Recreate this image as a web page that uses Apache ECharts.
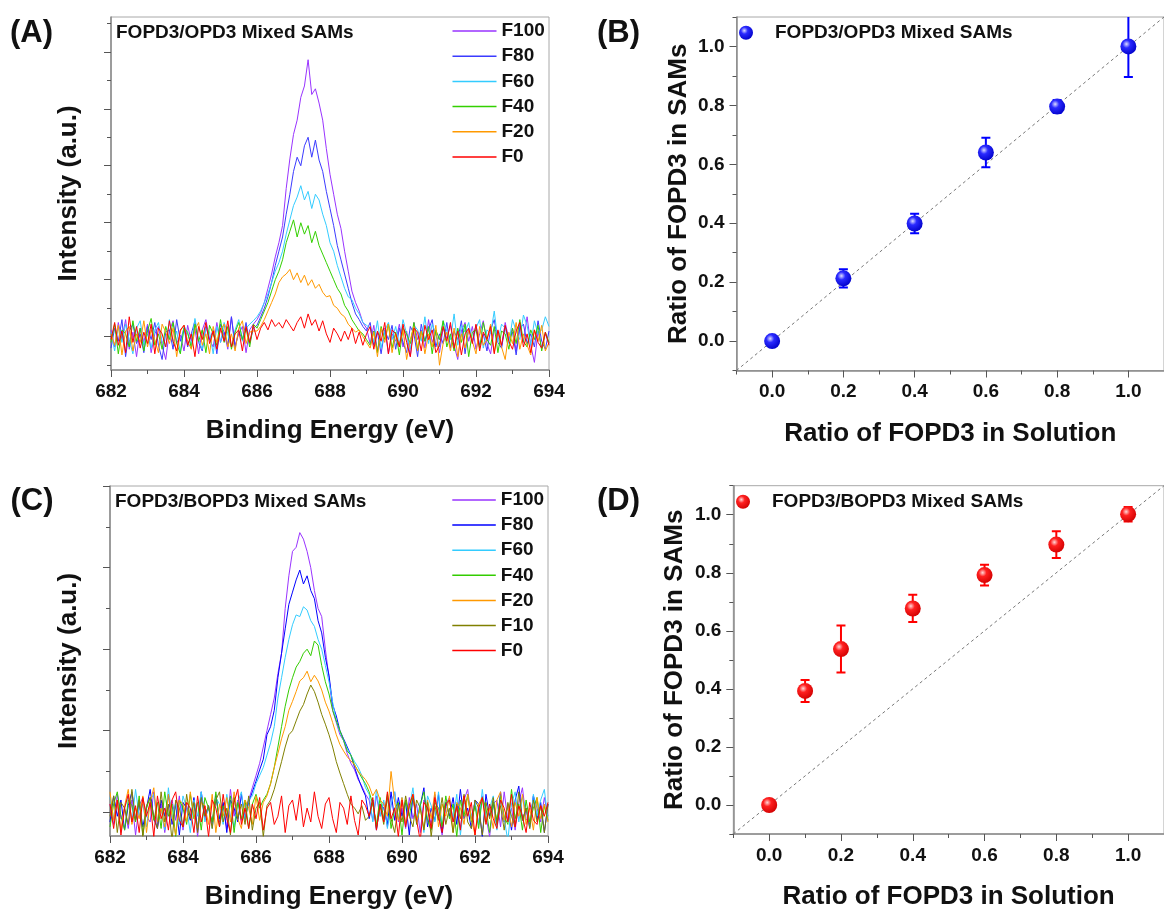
<!DOCTYPE html>
<html><head><meta charset="utf-8">
<script src="https://cdn.jsdelivr.net/npm/echarts@6/dist/echarts.min.js"></script>
<style>html,body{margin:0;padding:0;background:#fff}#chart{width:1164px;height:911px}</style>
</head><body><div id="chart"></div>
<script>
// ---------- Data ----------
const energyStart = 682.0;   // eV, first sample of every spectrum
const energyStep = 0.1;      // eV between samples
const energyMin = 682, energyMax = 694;

const namesA = ['F100','F80','F60','F40','F20','F0'];
const A_F100 = [12,-18,25,-5,30,-22,8,-35,15,-10,22,-28,5,18,-15,-40,10,28,-12,3,-25,20,-8,15,-30,12,30,-5,-18,25,-10,8,-22,35,-15,5,18,-28,12,22,
30,42,60,85,110,140,165,195,260,312,355,380,420,440,486,425,435,410,380,330,285,250,215,190,150,115,80,60,45,25,15,
-12,20,-25,8,15,-30,5,-8,22,-18,10,-35,25,-5,12,-20,30,-10,8,-28,15,-3,20,-15,-40,10,25,-8,18,-22,5,28,-12,-30,12,8,-18,25,-5,15,-25,20,-10,35,-15,-45,10,-20,5,-12];
const A_F80 = [-20,15,-8,30,-35,10,22,-12,5,-28,18,-5,25,-15,-40,8,12,-22,30,-8,15,-18,5,28,-10,-25,18,-5,12,-30,22,8,-15,35,-20,10,-5,25,-12,15,
20,35,50,70,95,125,150,175,215,250,290,315,300,335,350,315,345,310,290,255,225,195,160,135,110,85,60,40,30,18,10,
25,-15,8,-30,12,-5,20,-22,15,-10,-28,18,5,-35,22,-8,12,30,-18,5,-12,25,-20,10,-5,28,-30,15,-8,20,-15,5,-25,12,30,-10,-20,18,-5,8,-32,15,22,-12,5,-18,28,-8,-22,10];
const A_F60 = [8,-25,18,-10,22,-5,-30,15,28,-15,5,-20,12,25,-8,-18,30,-12,10,-28,20,5,-15,32,-5,-22,15,8,-30,18,-10,25,5,-18,12,30,-8,15,22,28,
35,45,60,75,95,115,130,150,180,205,230,245,265,240,255,225,250,240,215,195,165,150,125,105,85,70,65,50,40,25,20,
15,-10,28,-20,10,25,-5,18,-15,30,5,-22,20,12,-8,35,-12,22,5,-18,28,10,-5,40,-15,20,8,25,-10,15,30,-20,12,5,45,-8,22,15,-12,30,10,-5,38,20,-15,28,5,12,35,18];
const A_F40 = [-10,22,-30,12,5,-18,28,-8,15,-25,10,32,-15,5,-22,18,-5,25,-12,-30,15,8,-20,22,-8,12,-28,20,5,-15,30,-10,18,-22,8,25,-5,15,-18,22,
15,30,45,60,80,100,115,135,165,185,205,175,200,180,195,165,185,160,145,130,115,100,85,75,55,45,30,20,10,5,-5,
-15,10,-28,18,-5,22,-20,8,-32,15,5,-12,25,-22,10,-8,18,-30,12,-5,28,-18,5,-25,15,-10,22,-35,8,12,-20,25,-5,-15,18,-28,10,5,-22,15,-12,30,-8,-18,12,-5,20,-25,8,-10];
const A_F20 = [5,-15,20,-32,10,18,-25,5,-10,28,-18,12,-5,-28,22,8,-12,15,-35,10,20,-8,-22,12,25,-15,5,-30,18,-10,12,22,-18,5,-25,15,28,-12,8,10,
10,18,30,45,60,75,95,105,110,118,100,112,95,108,90,100,85,92,78,70,72,55,50,40,35,22,15,8,12,0,-10,
-20,8,-35,15,-10,22,-28,5,-15,12,-40,-5,18,-25,10,-30,5,-18,20,-50,-12,8,-25,15,-35,5,-20,12,-8,-30,18,-15,-5,22,-28,10,-18,-40,8,-12,25,-22,5,-15,-32,12,-8,20,-25,-10];
const A_F0 = [-5,25,-15,10,-28,35,-10,18,-20,8,-12,22,-30,15,5,-18,28,-8,-25,12,20,-15,5,-35,18,-5,25,-12,10,-22,15,-8,28,-18,5,12,-25,18,-10,20,
-5,15,25,12,30,18,25,15,30,20,10,25,35,15,40,20,30,10,28,5,-10,15,5,-8,10,-5,15,-12,8,-15,5,
18,-22,10,-8,25,-30,12,5,-18,22,-10,-35,15,8,-25,20,-5,12,-28,-15,18,-8,25,-20,10,-32,5,15,-12,22,-25,8,-5,18,-30,12,-15,20,-8,-22,10,25,-18,5,-28,12,-10,-20,8,-15];

const namesC = ['F100','F80','F60','F40','F20','F10','F0'];
const C_F100 = [10,-15,22,-8,5,-20,15,-28,8,18,-5,-12,25,-18,10,-25,5,15,-10,20,-22,8,-5,12,-30,18,-8,5,-15,22,-12,10,-20,28,-5,15,-10,5,
15,30,45,60,80,100,120,140,170,195,250,290,320,325,343,335,320,300,272,250,240,200,165,125,110,95,88,72,60,52,40,32,22,
15,-10,20,-5,12,-18,8,25,-12,5,-20,18,-8,10,-25,15,5,-15,22,-5,-28,10,18,-12,5,-20,15,28,-8,12,-15,20,-5,-30,10,15,-18,25,-10,5,-22,12,30,-8,-15,20,5,-12,18,-5];
const C_F80 = [-12,20,-5,15,-22,8,25,-10,12,-18,5,28,-8,-20,15,-5,22,-15,10,-28,12,5,-10,18,-22,25,-5,8,-15,20,-8,12,-25,15,5,-12,22,-8,12,
25,38,52,65,95,105,125,165,195,225,255,270,285,297,280,290,272,262,235,220,190,168,132,118,100,90,80,70,55,42,30,20,
-8,15,-22,10,5,-15,25,-10,18,-5,12,-28,20,-12,8,30,-18,5,-10,22,-25,12,-5,18,-15,28,-8,5,-20,15,10,-30,22,-5,12,-18,25,-12,8,-22,15,32,-10,5,-18,20,-8,12,-25,10];
const C_F60 = [18,-8,12,-25,5,20,-12,28,-5,10,-18,15,22,-10,5,-22,30,-8,12,-15,20,5,-25,15,-5,25,-12,8,-20,18,10,-15,22,-5,-18,12,25,-10,15,20,
35,45,55,70,85,105,140,165,190,212,230,242,240,252,248,235,228,212,200,180,160,135,112,98,88,78,70,62,55,45,30,
22,-12,28,-5,15,-20,10,25,-8,18,-15,5,30,-10,12,-25,20,8,-12,25,-18,5,15,-8,22,-28,10,18,-5,12,-15,28,-10,5,20,-22,15,-8,-35,10,25,-12,18,5,-20,22,-5,15,28,-10];
const C_F40 = [-18,10,25,-5,-22,15,8,-12,20,-28,5,18,-10,12,-20,25,-5,10,-30,15,5,-15,22,-8,12,-22,18,5,-12,25,-18,8,-5,20,-25,12,-8,15,-20,10,22,5,
15,22,35,55,80,105,130,150,165,178,185,195,200,192,210,205,180,160,145,125,112,100,88,75,70,58,50,42,35,
25,10,-15,18,-8,22,-20,5,12,-28,15,-5,20,-15,8,25,-10,-22,12,5,-18,20,-8,10,-30,15,-5,22,-12,8,-20,18,5,-25,12,-10,20,-5,-15,28,-8,10,-22,15,-12,5,18,-25,8,-10];
const C_F20 = [25,-10,15,-22,8,28,-15,5,-8,20,-25,12,30,-12,5,-18,22,-5,-28,15,10,-12,25,-5,-20,12,8,-15,22,-25,10,-5,18,-12,25,-8,-20,15,5,-15,20,-10,12,
20,35,55,72,90,105,125,136,148,161,165,173,160,168,161,150,135,124,110,95,83,75,68,63,58,50,45,40,
32,20,28,15,10,-5,50,12,-10,18,-15,8,22,-12,5,-20,15,-8,25,-18,10,-5,20,-25,12,5,-15,22,-8,-28,10,18,-12,5,-20,15,25,-10,8,-18,12,-5,22,-15,5,-22,18,-8,10,-12];
const C_F10 = [-5,20,-25,12,5,-15,28,-10,15,-30,8,18,-5,-20,25,-12,10,-35,15,5,-18,22,-8,12,-25,18,-5,8,-20,15,25,-12,5,-28,18,-8,10,-15,20,-22,5,12,-30,8,
15,28,45,62,80,95,100,112,124,132,145,156,148,135,120,108,95,80,62,48,35,22,10,5,-2,8,-10,
-5,12,-20,8,-15,18,-8,-25,10,-12,20,-5,-18,15,5,-22,12,-30,8,-10,18,-15,5,-25,10,-8,22,-12,-20,15,5,-28,12,-8,18,-15,8,-22,12,-5,-18,25,-10,5,-20,15,-12,8,-25,10];
const C_F0 = [10,-20,15,-28,5,22,-12,8,-25,18,-5,12,-30,20,-8,5,-22,15,25,-10,-18,12,5,-25,20,-12,8,-30,15,5,-18,22,-8,-25,12,28,-15,5,-20,10,
-8,18,-22,5,12,-15,-5,20,-25,8,15,-10,22,-18,5,-12,25,-5,-20,10,18,-8,-25,12,5,-15,20,-10,-28,15,8,-5,18,-22,10,-12,25,-8,5,-30,
15,-18,8,22,-10,-35,12,5,-20,18,-5,-25,10,15,-12,8,-22,20,-5,12,-28,5,18,-15,10,-8,-20,15,5,-12,22,-18,8,-5,-25,12,-10,-15,8,-5,12];

const solutionRatioB = [0.0, 0.2, 0.4, 0.6, 0.8, 1.0];
const samRatioB      = [0.0, 0.213, 0.399, 0.640, 0.796, 1.0];
const samErrB        = [0.01, 0.031, 0.033, 0.05, 0.022, 0.104];
const solutionRatioD = [0.0, 0.1, 0.2, 0.4, 0.6, 0.8, 1.0];
const samRatioD      = [0.0, 0.393, 0.537, 0.677, 0.792, 0.897, 1.002];
const samErrD        = [0.01, 0.038, 0.081, 0.047, 0.036, 0.046, 0.025];
const identityRange  = [-0.1, 1.1];

// tick lists
const intensityTicksA = [0, 100, 200, 300, 400, 500];
const intensityMinorA = [-50, 50, 150, 250, 350, 450, 550];
const intensityTicksC = [0, 100, 200, 300, 400];
const intensityMinorC = [50, 150, 250, 350];
const ratioTicks = [0.0, 0.2, 0.4, 0.6, 0.8, 1.0];
const ratioMinor = [-0.1, 0.1, 0.3, 0.5, 0.7, 0.9, 1.1];

// ---------- Styles ----------
const FONT = '"Liberation Sans", Arial, Helvetica, sans-serif';
const colorsA = ['#9933ff', '#3b3bff', '#33ccff', '#33d000', '#ff9900', '#ff0000'];
const colorsC = ['#9933ff', '#0000ff', '#33ccff', '#33cc00', '#ff9900', '#808000', '#ff0000'];
const lab = {fontFamily: FONT, fontWeight: 'bold', fontSize: 19, color: '#111'};
const nameTS = {fontFamily: FONT, fontWeight: 'bold', fontSize: 26, color: '#111', lineHeight: 26};
const axisLineS = {onZero: false, lineStyle: {color: '#8a8a8a', width: 1.5}};
const tickS = {color: '#555', width: 1};

function toPoints(values) {
  return values.map((v, i) => [+(energyStart + i * energyStep).toFixed(2), v]);
}
function sphere(light, base, dark) {
  return {type: 'radial', x: 0.38, y: 0.35, r: 0.7,
    colorStops: [{offset: 0, color: light}, {offset: 0.35, color: base}, {offset: 1, color: dark}]};
}
function errorBars(color) {
  return function (params, api) {
    const x = api.value(0), y = api.value(1), e = api.value(2);
    const hi = api.coord([x, y + e]);
    const lo = api.coord([x, y - e]);
    const cap = 4.5;
    const style = {stroke: color, lineWidth: 2};
    return {type: 'group', children: [
      {type: 'line', shape: {x1: hi[0], y1: hi[1], x2: lo[0], y2: lo[1]}, style: style},
      {type: 'line', shape: {x1: hi[0] - cap, y1: hi[1], x2: hi[0] + cap, y2: hi[1]}, style: style},
      {type: 'line', shape: {x1: lo[0] - cap, y1: lo[1], x2: lo[0] + cap, y2: lo[1]}, style: style}
    ]};
  };
}
function minorAxis(grid, min, max, values, pos) {
  return {type: 'value', gridIndex: grid, min: min, max: max, position: pos,
    axisLine: {show: false, onZero: false}, axisLabel: {show: false}, splitLine: {show: false},
    axisTick: {show: true, customValues: values, length: 4, lineStyle: tickS}};
}
const gridBox = {show: true, borderColor: '#a8a8a8', borderWidth: 1, backgroundColor: 'transparent'};

const series = [];
[A_F100, A_F80, A_F60, A_F40, A_F20, A_F0].forEach((vals, k) => {
  series.push({type: 'line', name: 'A:' + namesA[k], xAxisIndex: 0, yAxisIndex: 0, data: toPoints(vals),
    symbol: 'none', lineStyle: {width: 1, color: colorsA[k]}, itemStyle: {color: colorsA[k]}, z: 2 + k});
});
[C_F100, C_F80, C_F60, C_F40, C_F20, C_F10, C_F0].forEach((vals, k) => {
  series.push({type: 'line', name: 'C:' + namesC[k], xAxisIndex: 3, yAxisIndex: 4, data: toPoints(vals),
    symbol: 'none', lineStyle: {width: 1, color: colorsC[k]}, itemStyle: {color: colorsC[k]}, z: 2 + k});
});
const identityLine = identityRange.map(v => [v, v]);
series.push({type: 'line', name: 'idB', xAxisIndex: 1, yAxisIndex: 2, data: identityLine, symbol: 'none', silent: true,
  lineStyle: {color: '#777', width: 1, type: [3, 3]}, z: 1});
series.push({type: 'custom', name: 'errB', xAxisIndex: 1, yAxisIndex: 2, clip: true, z: 3,
  data: solutionRatioB.map((x, i) => [x, samRatioB[i], samErrB[i]]), renderItem: errorBars('#0000ff')});
series.push({type: 'scatter', name: 'FOPD3/OPD3 Mixed SAMs', xAxisIndex: 1, yAxisIndex: 2, symbolSize: 16, z: 4,
  data: solutionRatioB.map((x, i) => [x, samRatioB[i]]),
  itemStyle: {color: sphere('#dcdcff', '#2a2aff', '#0000c8'), opacity: 1}});
series.push({type: 'line', name: 'idD', xAxisIndex: 4, yAxisIndex: 6, data: identityLine, symbol: 'none', silent: true,
  lineStyle: {color: '#777', width: 1, type: [3, 3]}, z: 1});
series.push({type: 'custom', name: 'errD', xAxisIndex: 4, yAxisIndex: 6, clip: true, z: 3,
  data: solutionRatioD.map((x, i) => [x, samRatioD[i], samErrD[i]]), renderItem: errorBars('#ff0000')});
series.push({type: 'scatter', name: 'FOPD3/BOPD3 Mixed SAMs', xAxisIndex: 4, yAxisIndex: 6, symbolSize: 16, z: 4,
  data: solutionRatioD.map((x, i) => [x, samRatioD[i]]),
  itemStyle: {color: sphere('#ffd8d8', '#ff2020', '#d00000'), opacity: 1}});

const legendText = {fontFamily: FONT, fontWeight: 'bold', fontSize: 19, color: '#111', lineHeight: 19};
const stripPanel = n => n.slice(2);
const panelLabel = {fontFamily: FONT, fontWeight: 'bold', fontSize: 31, color: '#111', lineHeight: 31};
const inPlotTitle = {fontFamily: FONT, fontWeight: 'bold', fontSize: 19, color: '#111', lineHeight: 19};

const option = {
  animation: false,
  backgroundColor: '#fff',
  title: [
    {text: '(A)', left: 10, top: 18, padding: 0, textStyle: panelLabel},
    {text: '(B)', left: 597, top: 18, padding: 0, textStyle: panelLabel},
    {text: '(C)', left: 10.5, top: 486, padding: 0, textStyle: panelLabel},
    {text: '(D)', left: 597, top: 486, padding: 0, textStyle: panelLabel},
    {text: 'FOPD3/OPD3 Mixed SAMs', left: 116, top: 23, padding: 0, textStyle: inPlotTitle},
    {text: 'FOPD3/BOPD3 Mixed SAMs', left: 115, top: 492, padding: 0, textStyle: inPlotTitle}
  ],
  legend: [
    {orient: 'vertical', left: 452.5, top: 21.5, padding: 0, itemWidth: 44, itemHeight: 1.5, itemGap: 6.2, icon: 'rect',
      data: namesA.map(n => 'A:' + n), formatter: stripPanel, textStyle: legendText, selectedMode: false},
    {orient: 'vertical', left: 452.3, top: 490.5, padding: 0, itemWidth: 43.5, itemHeight: 1.5, itemGap: 6.1, icon: 'rect',
      data: namesC.map(n => 'C:' + n), formatter: stripPanel, textStyle: legendText, selectedMode: false},
    {orient: 'vertical', left: 739, top: 23.2, padding: 0, itemWidth: 48, itemHeight: 14, icon: 'circle',
      data: ['FOPD3/OPD3 Mixed SAMs'], textStyle: legendText, selectedMode: false},
    {orient: 'vertical', left: 736, top: 492.2, padding: 0, itemWidth: 48, itemHeight: 14, icon: 'circle',
      data: ['FOPD3/BOPD3 Mixed SAMs'], textStyle: legendText, selectedMode: false}
  ],
  grid: [
    Object.assign({left: 111, top: 17, width: 438, height: 353}, gridBox),
    Object.assign({left: 736.5, top: 17, width: 438, height: 353.5}, gridBox),
    Object.assign({left: 110, top: 486, width: 438, height: 353}, gridBox),
    Object.assign({left: 733.3, top: 485.7, width: 438, height: 353.3}, gridBox)
  ],
  xAxis: [
    {type: 'value', gridIndex: 0, min: energyMin, max: energyMax, interval: 2, position: 'bottom',
      axisLine: axisLineS, axisTick: {length: 7, lineStyle: tickS},
      minorTick: {show: true, splitNumber: 2, length: 4, lineStyle: tickS}, splitLine: {show: false}, minorSplitLine: {show: false},
      axisLabel: Object.assign({margin: 12}, lab),
      name: 'Binding Energy (eV)', nameLocation: 'middle', nameGap: 48, nameTextStyle: nameTS},
    {type: 'value', gridIndex: 1, min: -0.1, max: 1.1, position: 'bottom',
      axisLine: axisLineS, axisTick: {customValues: ratioTicks, length: 7, lineStyle: tickS}, splitLine: {show: false},
      axisLabel: Object.assign({margin: 12, customValues: ratioTicks, formatter: v => v.toFixed(1)}, lab),
      name: 'Ratio of FOPD3 in Solution', nameLocation: 'middle', nameGap: 50, nameTextStyle: nameTS},
    minorAxis(1, -0.1, 1.1, ratioMinor, 'bottom'),
    {type: 'value', gridIndex: 2, min: energyMin, max: energyMax, interval: 2, position: 'bottom',
      axisLine: axisLineS, axisTick: {length: 7, lineStyle: tickS},
      minorTick: {show: true, splitNumber: 2, length: 4, lineStyle: tickS}, splitLine: {show: false}, minorSplitLine: {show: false},
      axisLabel: Object.assign({margin: 12}, lab),
      name: 'Binding Energy (eV)', nameLocation: 'middle', nameGap: 48, nameTextStyle: nameTS},
    {type: 'value', gridIndex: 3, min: -0.1, max: 1.1, position: 'bottom',
      axisLine: axisLineS, axisTick: {customValues: ratioTicks, length: 7, lineStyle: tickS}, splitLine: {show: false},
      axisLabel: Object.assign({margin: 12, customValues: ratioTicks, formatter: v => v.toFixed(1)}, lab),
      name: 'Ratio of FOPD3 in Solution', nameLocation: 'middle', nameGap: 50, nameTextStyle: nameTS},
    minorAxis(3, -0.1, 1.1, ratioMinor, 'bottom')
  ],
  yAxis: [
    {type: 'value', gridIndex: 0, min: -58.4, max: 561, position: 'left',
      axisLine: axisLineS, axisTick: {customValues: intensityTicksA, length: 7, lineStyle: tickS},
      axisLabel: {show: false}, splitLine: {show: false},
      name: 'Intensity (a.u.)', nameLocation: 'middle', nameGap: 29, nameTextStyle: nameTS},
    minorAxis(0, -58.4, 561, intensityMinorA, 'left'),
    {type: 'value', gridIndex: 1, min: -0.1, max: 1.1, position: 'left',
      axisLine: axisLineS, axisTick: {customValues: ratioTicks, length: 7, lineStyle: tickS}, splitLine: {show: false},
      axisLabel: Object.assign({margin: 12, customValues: ratioTicks, formatter: v => v.toFixed(1)}, lab),
      name: 'Ratio of FOPD3 in SAMs', nameLocation: 'middle', nameGap: 45, nameTextStyle: nameTS},
    minorAxis(1, -0.1, 1.1, ratioMinor, 'left'),
    {type: 'value', gridIndex: 2, min: -29.2, max: 400.2, position: 'left',
      axisLine: axisLineS, axisTick: {customValues: intensityTicksC, length: 7, lineStyle: tickS},
      axisLabel: {show: false}, splitLine: {show: false},
      name: 'Intensity (a.u.)', nameLocation: 'middle', nameGap: 28.5, nameTextStyle: nameTS},
    minorAxis(2, -29.2, 400.2, intensityMinorC, 'left'),
    {type: 'value', gridIndex: 3, min: -0.1, max: 1.1, position: 'left',
      axisLine: axisLineS, axisTick: {customValues: ratioTicks, length: 7, lineStyle: tickS}, splitLine: {show: false},
      axisLabel: Object.assign({margin: 12, customValues: ratioTicks, formatter: v => v.toFixed(1)}, lab),
      name: 'Ratio of FOPD3 in SAMs', nameLocation: 'middle', nameGap: 45, nameTextStyle: nameTS},
    minorAxis(3, -0.1, 1.1, ratioMinor, 'left')
  ],
  series: series
};
const chart = echarts.init(document.getElementById('chart'), null, {renderer: 'canvas', width: 1164, height: 911});
chart.setOption(option);
</script>
</body></html>
